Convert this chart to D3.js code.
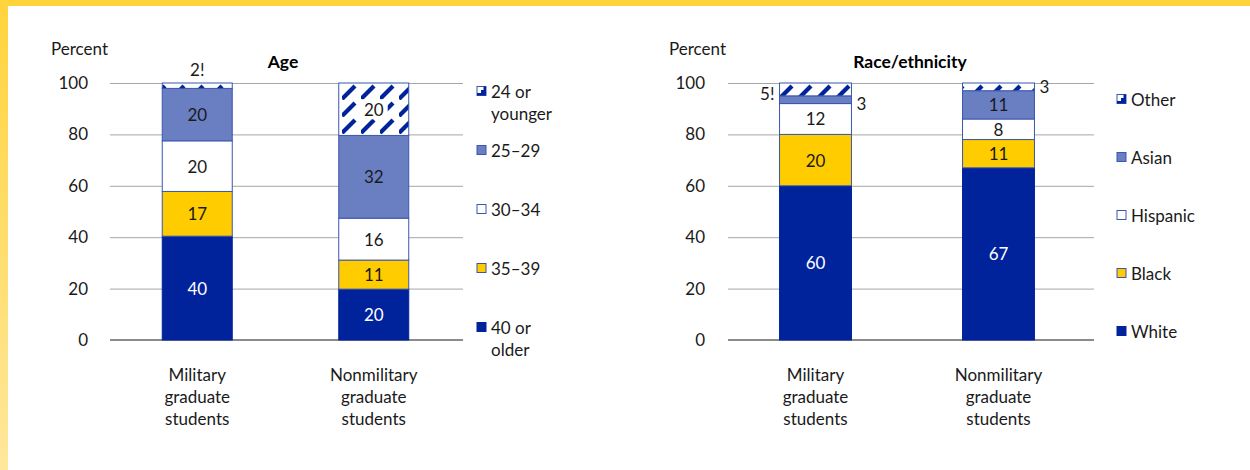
<!DOCTYPE html>
<meta charset="utf-8">
<style>
body { margin: 0; background: #fff; }
svg { display: block; font-family: Lato, "Open Sans", sans-serif; }
.axis text { font-size: 17px; fill: #1a1a1a; font-family: Lato, sans-serif; }
.axis line { stroke: #a6a6a6; }
.axis .domain { display: none; }
.lbl { font-size: 17px; fill: #1a1a1a; }
.title { font-size: 17.5px; font-weight: bold; }
</style>
<svg width="1250" height="470"></svg>
<script src="https://d3js.org/d3.v7.min.js"></script>
<script>
var categories = ["Military graduate students", "Nonmilitary graduate students"];
var yTicks = [0, 20, 40, 60, 80, 100];

// Age (bottom to top); labels are rounded
var ageKeys = ["40 or older", "35\u201339", "30\u201334", "25\u201329", "24 or younger"];
var ageMilitary = [40.4, 17.4, 19.7, 20.4, 2.1];
var ageNonmilitary = [19.8, 11.3, 16.3, 32.2, 20.4];

// Race/ethnicity (bottom to top)
var raceKeys = ["White", "Black", "Hispanic", "Asian", "Other"];
var raceMilitary = [60, 20, 12, 3, 5];
var raceNonmilitary = [67, 11, 8, 11, 3];

var navy = "#00239c", mid = "#6a7fc2", yellow = "#ffcc00", edge = "#3a56b0";
var fills = [navy, yellow, "#fff", mid, "url(#hatch)"];

var svg = d3.select("svg");

// yellow frame
var defs = svg.append("defs");
var grad = defs.append("linearGradient").attr("id", "side").attr("x1", 0).attr("y1", 0).attr("x2", 0).attr("y2", 1);
grad.append("stop").attr("offset", 0).attr("stop-color", "#ffd43b");
grad.append("stop").attr("offset", 1).attr("stop-color", "#ffe79c");
svg.append("rect").attr("x", 0).attr("y", 0).attr("width", 1250).attr("height", 6).attr("fill", "#ffd43b");
svg.append("rect").attr("x", 0).attr("y", 0).attr("width", 8).attr("height", 470).attr("fill", "url(#side)");

// hatch pattern: dashed upward diagonals
var pat = defs.append("pattern").attr("id", "hatch").attr("patternUnits", "userSpaceOnUse")
  .attr("width", 19).attr("height", 17).attr("y", 83);
pat.append("rect").attr("width", 19).attr("height", 17).attr("fill", "#fff");
pat.append("path").attr("d", "M0,16 L13,3").attr("stroke", navy).attr("stroke-width", 4.2).attr("stroke-linecap", "butt");

var y = d3.scaleLinear().domain([0, 100]).range([340, 83]);

function panel(o) {
  var g = svg.append("g");
  var x = d3.scaleBand().domain(categories).range(o.band).paddingInner(o.pi).paddingOuter(o.pi / 2);

  g.append("g").attr("class", "axis")
    .attr("transform", "translate(" + o.grid[0] + ",0)")
    .call(d3.axisLeft(y).tickValues(yTicks).tickSize(-(o.grid[1] - o.grid[0])).tickPadding(o.pad));
  g.append("line").attr("x1", o.grid[0]).attr("x2", o.grid[1]).attr("y1", y(0)).attr("y2", y(0))
    .attr("stroke", "#8c8c8c").attr("stroke-width", 2);

  g.append("text").attr("class", "lbl").attr("x", o.grid[0] - 59).attr("y", 55).text("Percent");
  g.append("text").attr("class", "title").attr("x", o.titleX).attr("y", 68).attr("text-anchor", "middle").text(o.title);

  var rows = categories.map(function(c, i) {
    var r = { cat: c };
    o.keys.forEach(function(k, j) { r[k] = o.series[i][j]; });
    return r;
  });
  var stack = d3.stack().keys(o.keys)(rows);

  stack.forEach(function(layer, j) {
    layer.forEach(function(d) {
      var cat = d.data.cat;
      g.append("rect")
        .attr("x", x(cat)).attr("width", x.bandwidth())
        .attr("y", y(d[1])).attr("height", y(d[0]) - y(d[1]))
        .attr("fill", fills[j])
        .attr("stroke", j === 0 ? navy : edge).attr("stroke-width", 1);
    });
  });

  // value labels
  stack.forEach(function(layer, j) {
    layer.forEach(function(d, i) {
      var cat = d.data.cat, v = Math.round(d[1] - d[0]);
      var cx = x(cat) + x.bandwidth() / 2, cy = (y(d[0]) + y(d[1])) / 2;
      var spec = o.outside[j + "," + i];
      if (spec) {
        var ax = spec.side === "left" ? x(cat) - 5 : spec.side === "right" ? x(cat) + x.bandwidth() + 5 : cx;
        g.append("text").attr("class", "lbl").attr("dominant-baseline", "central")
          .attr("x", ax).attr("y", spec.side === "top" ? y(100) - 14 : cy + (spec.dy || 0))
          .attr("text-anchor", spec.side === "left" ? "end" : spec.side === "right" ? "start" : "middle")
          .text(v + (spec.bang ? "!" : ""));
      } else {
        if (j === 4) {
          g.append("rect").attr("x", cx - 14).attr("y", cy - 10).attr("width", 28).attr("height", 20).attr("fill", "#fff");
        }
        g.append("text").attr("class", "lbl").attr("dominant-baseline", "central")
          .attr("x", cx).attr("y", cy).attr("text-anchor", "middle")
          .style("fill", j === 0 ? "#fff" : "#1a1a1a").text(v);
      }
    });
  });

  // category labels
  categories.forEach(function(c) {
    var words = c.split(" ");
    var t = g.append("text").attr("class", "lbl").attr("text-anchor", "middle")
      .attr("x", x(c) + x.bandwidth() / 2).attr("y", 381);
    words.forEach(function(w, k) {
      t.append("tspan").attr("x", x(c) + x.bandwidth() / 2).attr("dy", k ? 22 : 0).text(w);
    });
  });

  // legend (top to bottom)
  var lg = g.append("g");
  o.keys.slice().reverse().forEach(function(k, n) {
    var j = o.keys.length - 1 - n;
    var ly = o.legendY + n * o.legendStep;
    var lx = o.legendX;
    lg.append("rect").attr("x", lx).attr("y", ly - 4.5).attr("width", 9).attr("height", 9)
      .attr("fill", j === 4 ? "#fff" : fills[j]).attr("stroke", j === 0 ? navy : edge);
    if (j === 4) {
      lg.append("path").attr("d", "M" + (lx + 9) + "," + (ly - 4.5) + " L" + (lx + 9) + "," + (ly + 4.5) +
        " L" + lx + "," + (ly + 4.5) + " L" + lx + "," + (ly + 2) + " L" + (lx + 4) + "," + (ly + 2) +
        " L" + (lx + 4) + "," + (ly - 1) + " L" + (lx + 6.5) + "," + (ly - 1) + " L" + (lx + 6.5) + "," + (ly - 4.5) + "Z")
        .attr("fill", navy);
    }
    var lines = o.legendLines[k] || [k];
    var t = lg.append("text").attr("class", "lbl").attr("x", lx + 14).attr("y", ly).attr("dominant-baseline", "central");
    lines.forEach(function(w, m) {
      t.append("tspan").attr("x", lx + 14).attr("dy", m ? 22 : 0).text(w);
    });
  });
}

panel({
  title: "Age", titleX: 283, keys: ageKeys, series: [ageMilitary, ageNonmilitary],
  grid: [110, 463], band: [109, 462], pi: 0.6034, pad: 22,
  outside: { "4,0": { side: "top", bang: true } },
  legendX: 477, legendY: 91, legendStep: 59,
  legendLines: { "24 or younger": ["24 or", "younger"], "40 or older": ["40 or", "older"] }
});

panel({
  title: "Race/ethnicity", titleX: 910, keys: raceKeys, series: [raceMilitary, raceNonmilitary],
  grid: [728, 1094], band: [724, 1090], pi: 0.607, pad: 23,
  outside: { "4,0": { side: "left", bang: true, dy: 4 }, "3,0": { side: "right", dy: 4 }, "4,1": { side: "right", dy: 0 } },
  legendX: 1117, legendY: 99, legendStep: 58,
  legendLines: {}
});
</script>
